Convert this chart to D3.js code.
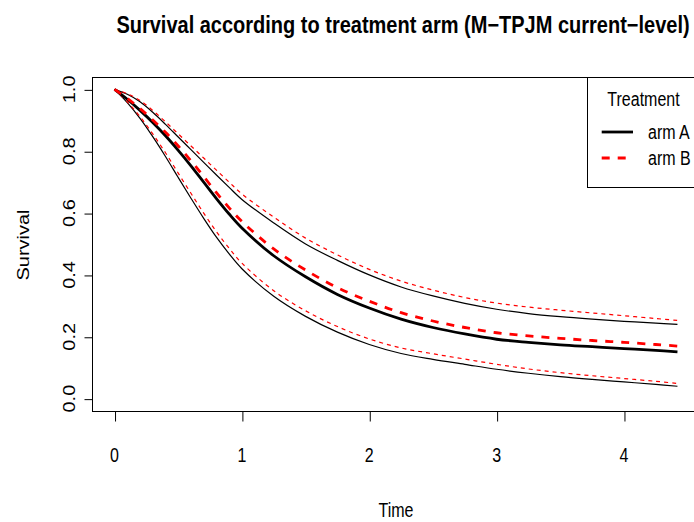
<!DOCTYPE html>
<html>
<head>
<meta charset="utf-8">
<script src="https://cdn.jsdelivr.net/npm/d3@7"></script>
<style>
  html, body { margin: 0; padding: 0; background: #fff; }
  svg { display: block; font-family: "Liberation Sans", Arial, Helvetica, sans-serif; }
</style>
</head>
<body>
<svg id="chart" width="694" height="522"></svg>
<script>
// Survival curves by treatment arm with pointwise bands
const times   = [0, 0.1, 0.2, 0.3, 0.4, 0.5, 0.6, 0.7, 0.8, 0.9, 1.0, 1.25, 1.5, 1.75, 2.0, 2.25, 2.5, 2.75, 3.0, 3.25, 3.5, 3.75, 4.0, 4.25, 4.42];
const armA    = [1, 0.968, 0.932, 0.893, 0.850, 0.803, 0.753, 0.700, 0.647, 0.597, 0.552, 0.462, 0.394, 0.337, 0.293, 0.257, 0.230, 0.209, 0.192, 0.182, 0.174, 0.168, 0.162, 0.156, 0.151];
const armALow = [1, 0.957, 0.906, 0.847, 0.783, 0.715, 0.648, 0.583, 0.522, 0.468, 0.420, 0.331, 0.266, 0.215, 0.175, 0.146, 0.127, 0.111, 0.095, 0.082, 0.071, 0.062, 0.054, 0.046, 0.040];
const armAUp  = [1, 0.984, 0.960, 0.926, 0.887, 0.846, 0.805, 0.764, 0.723, 0.683, 0.644, 0.568, 0.500, 0.447, 0.400, 0.361, 0.332, 0.308, 0.289, 0.275, 0.265, 0.257, 0.250, 0.244, 0.240];
const armB    = [1, 0.971, 0.938, 0.901, 0.861, 0.817, 0.769, 0.718, 0.666, 0.617, 0.573, 0.484, 0.416, 0.359, 0.315, 0.278, 0.251, 0.230, 0.213, 0.203, 0.195, 0.188, 0.182, 0.175, 0.170];
const armBLow = [1, 0.960, 0.912, 0.856, 0.795, 0.729, 0.664, 0.600, 0.540, 0.486, 0.438, 0.349, 0.284, 0.233, 0.193, 0.164, 0.145, 0.128, 0.111, 0.096, 0.084, 0.074, 0.065, 0.056, 0.049];
const armBUp  = [1, 0.986, 0.964, 0.932, 0.895, 0.856, 0.817, 0.778, 0.739, 0.700, 0.662, 0.587, 0.519, 0.465, 0.418, 0.380, 0.351, 0.327, 0.309, 0.296, 0.286, 0.277, 0.268, 0.259, 0.253];

const xTicks = [0, 1, 2, 3, 4];
const yTicks = [0, 0.2, 0.4, 0.6, 0.8, 1.0];
const legendLabels = ["arm A", "arm B"];

(function draw() {
  const svg = d3.select("#chart");
  const SY = 1.25; // vertical stretch applied to text glyphs

  // plot region (R-style 4% padding around the data range)
  const xMin = -0.177, xMax = 4.597;
  const yMin = -0.04, yMax = 1.04;
  const pL = 92, pR = 700, pT = 77, pB = 411;

  const x = d3.scaleLinear().domain([xMin, xMax]).range([pL, pR]);
  const y = d3.scaleLinear().domain([yMin, yMax]).range([pB, pT]);

  // box around plot region
  svg.append("rect")
    .attr("x", pL + 0.5).attr("y", pT + 0.5)
    .attr("width", pR - pL).attr("height", pB - pT)
    .attr("fill", "none").attr("stroke", "#000").attr("stroke-width", 1);

  // helper for stretched text
  function txt(xp, yp, s, opts = {}) {
    const rot = opts.rotate ? " rotate(-90)" : "";
    return svg.append("text")
      .attr("transform", `translate(${xp},${yp}) scale(1,${opts.sy || SY})${rot}`)
      .attr("text-anchor", opts.anchor || "middle")
      .attr("font-size", opts.size || 16)
      .attr("font-weight", opts.bold ? "bold" : "normal")
      .attr("fill", "#000")
      .text(s);
  }

  // x axis
  const xAxis = d3.axisBottom(x).tickValues(xTicks).tickSize(10).tickFormat("");
  const gx = svg.append("g").attr("transform", `translate(0.5,${pB + 0.5})`).call(xAxis);
  gx.select(".domain").attr("d", `M${x(xTicks[0])},0H${x(xTicks[xTicks.length - 1])}`);
  gx.selectAll("line").attr("stroke", "#000");
  xTicks.forEach(t => txt(x(t), 462, String(t), { size: 16 }));

  // y axis
  const yAxis = d3.axisLeft(y).tickValues(yTicks).tickSize(8).tickFormat("");
  const gy = svg.append("g").attr("transform", `translate(${pL + 0.5},0.5)`).call(yAxis);
  gy.select(".domain").attr("d", `M0,${y(yTicks[0])}V${y(yTicks[yTicks.length - 1])}`);
  gy.selectAll("line").attr("stroke", "#000");
  yTicks.forEach(t => txt(75, y(t), t.toFixed(1), { size: 16, rotate: true }));

  // axis titles and main title
  txt(396, 517, "Time", { size: 16 });
  txt(29, 245, "Survival", { size: 16, rotate: true });
  txt(403, 33, "Survival according to treatment arm (M\u2212TPJM current\u2212level)", { size: 20, bold: true, sy: 1.2 });

  // curves
  const line = d3.line().x(d => x(d[0])).y(d => y(d[1])).curve(d3.curveCatmullRom.alpha(0.5));
  const series = [
    { v: armAUp,  color: "#000", w: 1.2, dash: null },
    { v: armALow, color: "#000", w: 1.2, dash: null },
    { v: armBUp,  color: "#f00", w: 1.2, dash: "4,4" },
    { v: armBLow, color: "#f00", w: 1.2, dash: "4,4" },
    { v: armA,    color: "#000", w: 2.8, dash: null },
    { v: armB,    color: "#f00", w: 2.8, dash: "8,8" }
  ];
  series.forEach(s => {
    svg.append("path")
      .datum(times.map((t, i) => [t, s.v[i]]))
      .attr("d", line)
      .attr("fill", "none")
      .attr("stroke", s.color)
      .attr("stroke-width", s.w)
      .attr("stroke-dasharray", s.dash);
  });

  // legend
  const lg = { x: 587, y: pT, w: pR - 587, h: 110 };
  svg.append("rect")
    .attr("x", lg.x + 0.5).attr("y", lg.y + 0.5)
    .attr("width", lg.w).attr("height", lg.h)
    .attr("fill", "#fff").attr("stroke", "#000");
  txt(lg.x + lg.w / 2, 106, "Treatment", { size: 16 });
  const legStyles = [
    { color: "#000", dash: null },
    { color: "#f00", dash: "8,8" }
  ];
  legendLabels.forEach((lab, i) => {
    const yy = 132 + i * 26;
    svg.append("line")
      .attr("x1", 601.7).attr("x2", 633).attr("y1", yy).attr("y2", yy)
      .attr("stroke", legStyles[i].color).attr("stroke-width", 2.8)
      .attr("stroke-dasharray", legStyles[i].dash);
    txt(648, yy + 7, lab, { size: 16, anchor: "start" });
  });
})();
</script>
</body>
</html>
